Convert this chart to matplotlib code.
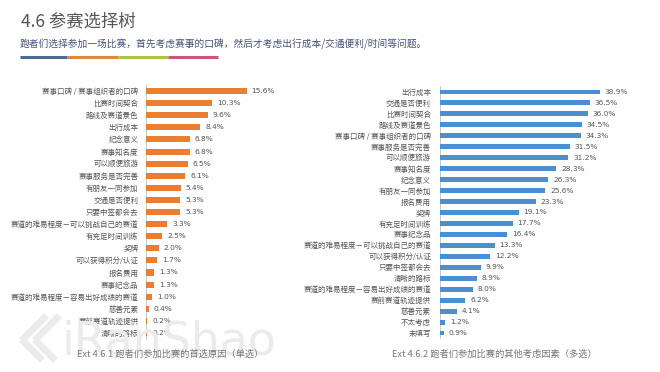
import matplotlib
matplotlib.use("Agg")
import matplotlib.pyplot as plt
from matplotlib.lines import Line2D

plt.rcParams['font.family'] = ['Noto Sans CJK SC', 'DejaVu Sans']

title = "4.6 参赛选择树"
subtitle = "跑者们选择参加一场比赛，首先考虑赛事的口碑，然后才考虑出行成本/交通便利/时间等问题。"

left_categories = [
    "赛事口碑 / 赛事组织者的口碑", "比赛时间契合", "路线及赛道景色", "出行成本", "纪念意义",
    "赛事知名度", "可以顺便旅游", "赛事服务是否完善", "有朋友一同参加", "交通是否便利",
    "只要中签都会去", "赛道的难易程度－可以挑战自己的赛道", "有充足时间训练", "奖牌",
    "可以获得积分/认证", "报名费用", "赛事纪念品", "赛道的难易程度－容易出好成绩的赛道",
    "慈善元素", "赛前赛道轨迹提供", "清晰的路标",
]
left_values = [15.6, 10.3, 9.6, 8.4, 6.8, 6.8, 6.5, 6.1, 5.4, 5.3, 5.3, 3.3, 2.5, 2.0,
               1.7, 1.3, 1.3, 1.0, 0.4, 0.2, 0.2]
left_caption = "Ext 4.6.1 跑者们参加比赛的首选原因（单选）"

right_categories = [
    "出行成本", "交通是否便利", "比赛时间契合", "路线及赛道景色", "赛事口碑 / 赛事组织者的口碑",
    "赛事服务是否完善", "可以顺便旅游", "赛事知名度", "纪念意义", "有朋友一同参加", "报名费用",
    "奖牌", "有充足时间训练", "赛事纪念品", "赛道的难易程度－可以挑战自己的赛道",
    "可以获得积分/认证", "只要中签都会去", "清晰的路标", "赛道的难易程度－容易出好成绩的赛道",
    "赛前赛道轨迹提供", "慈善元素", "不太考虑", "未填写",
]
right_values = [38.9, 36.5, 36.0, 34.5, 34.3, 31.5, 31.2, 28.3, 26.3, 25.6, 23.3, 19.1,
                17.7, 16.4, 13.3, 12.2, 9.9, 8.9, 8.0, 6.2, 4.1, 1.2, 0.9]
right_caption = "Ext 4.6.2 跑者们参加比赛的其他考虑因素（多选）"

W, H = 660, 372
fig = plt.figure(figsize=(W / 100, H / 100), dpi=100)
fig.patch.set_facecolor("white")


def fx(px):
    return px / W


def fy(py):
    return 1 - py / H


# Title and subtitle
fig.text(fx(21), fy(22), title, fontsize=12.5, color="#555555", va="center", ha="left")
fig.text(fx(20), fy(44), subtitle, fontsize=7, color="#47527a", va="center", ha="left")

# Coloured divider
seg_colors = ["#4b6a97", "#d98a45", "#a9c24a", "#c7577f"]
seg_edges = [20, 67, 118, 168, 218]
for c, a, b in zip(seg_colors, seg_edges[:-1], seg_edges[1:]):
    fig.add_artist(Line2D([fx(a), fx(b)], [fy(57), fy(57)], color=c, lw=2.2,
                          transform=fig.transFigure, solid_capstyle="butt"))

# Watermark (logo)
fig.text(fx(62), fy(342), "iRanShao", fontsize=33, color="#ebebeb", va="center",
         ha="left", family="DejaVu Sans", zorder=0)
for dx in (0, 13):
    fig.add_artist(Line2D([fx(24 + dx), fx(44 + dx)], [fy(338), fy(318)], color="#ebebeb",
                          lw=5, transform=fig.transFigure, zorder=0))
    fig.add_artist(Line2D([fx(24 + dx), fx(40 + dx)], [fy(342), fy(358)], color="#ebebeb",
                          lw=5, transform=fig.transFigure, zorder=0))


def draw(ax, cats, vals, color, bar_h, pad):
    n = len(cats)
    y = list(range(n))
    ax.barh(y, vals, height=bar_h, color=color, zorder=3)
    ax.set_ylim(n - 0.5, -0.5)
    ax.set_yticks(y)
    ax.set_yticklabels(cats, fontsize=5.4, color="#555555")
    ax.tick_params(axis="y", length=0, pad=pad)
    ax.set_xticks([])
    for s in ("top", "right", "bottom"):
        ax.spines[s].set_visible(False)
    ax.spines["left"].set_color("#bfbfbf")
    ax.spines["left"].set_linewidth(0.6)
    ax.patch.set_alpha(0)
    for yi, v in zip(y, vals):
        ax.annotate(f"{v:.1f}%", (v, yi), xytext=(3.5, 0), textcoords="offset points",
                    va="center", ha="left", fontsize=5.3, color="#555555",
                    family="DejaVu Sans")


# Left chart
axL = fig.add_axes([fx(146), fy(339), fx(129), 254 / H])
draw(axL, left_categories, left_values, "#ed7d31", 0.5, 5.5)
axL.set_xlim(0, 20)

# Right chart
axR = fig.add_axes([fx(440), fy(338.5), fx(185), 252 / H])
draw(axR, right_categories, right_values, "#4a8fd0", 0.45, 6.5)
axR.set_xlim(0, 45)

fig.text(fx(170), fy(354), left_caption, fontsize=6.7, color="#777777", ha="center", va="center")
fig.text(fx(494), fy(354), right_caption, fontsize=6.7, color="#777777", ha="center", va="center")

fig.savefig("out.png", dpi=100, facecolor="white")
